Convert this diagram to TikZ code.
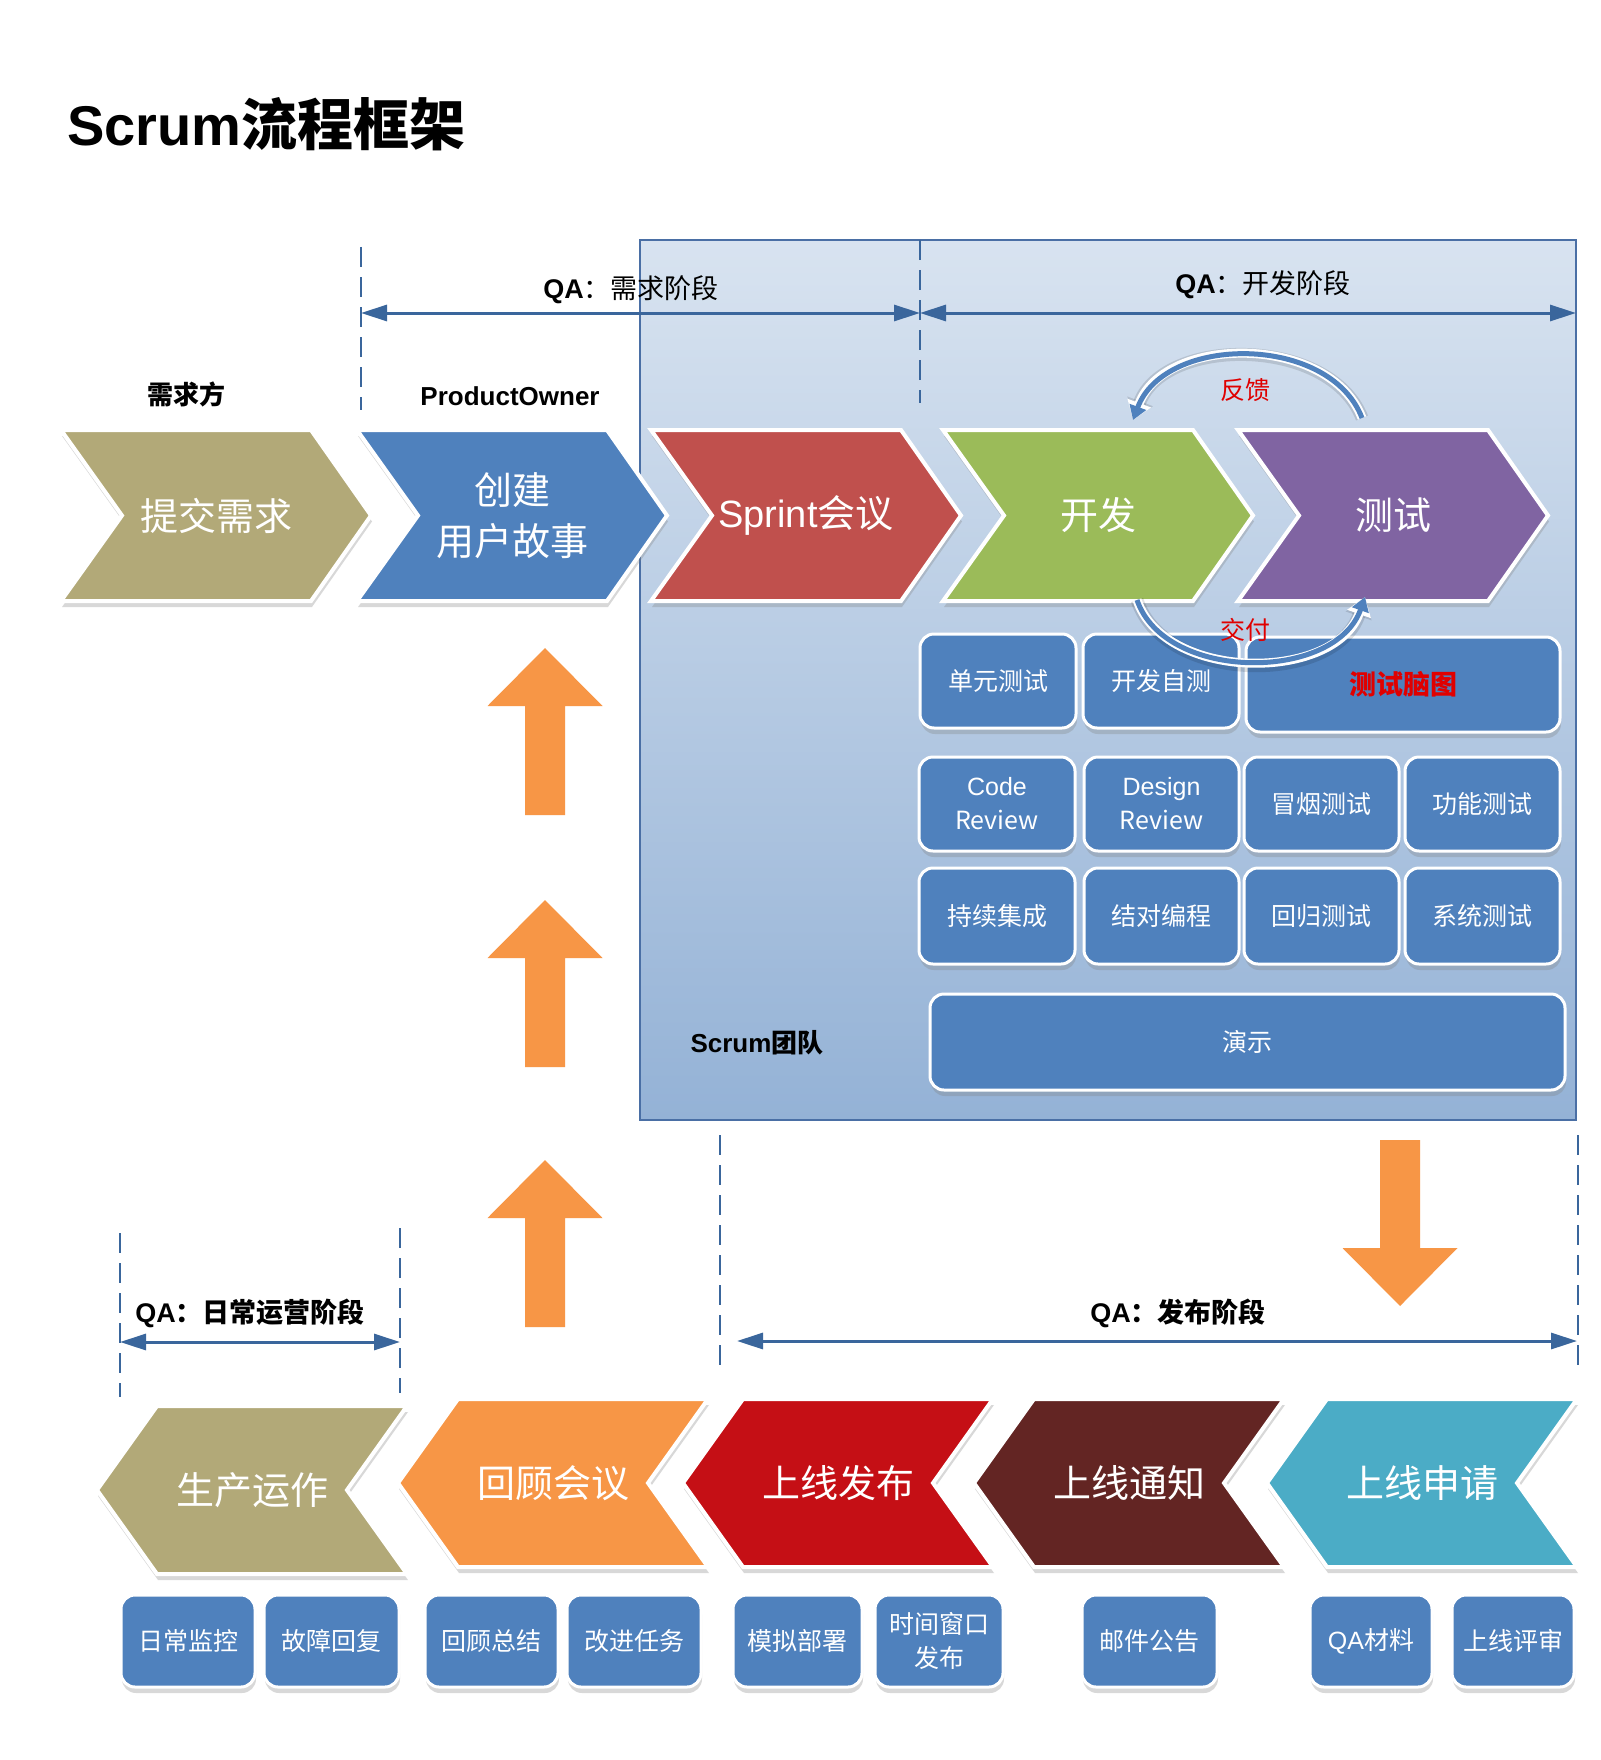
\documentclass[tikz,border=0pt]{standalone}
\usepackage{fontspec}
\setmainfont{Liberation Sans}
\newfontfamily\cjk{Noto Sans CJK SC}
\newfontfamily\lat{Liberation Sans}
\usetikzlibrary{shadows,arrows.meta}
\definecolor{cOlive}{HTML}{B2A978}
\definecolor{cBlue}{HTML}{4F81BD}
\definecolor{cRed}{HTML}{C0504D}
\definecolor{cGreen}{HTML}{9BBB59}
\definecolor{cPurple}{HTML}{8064A2}
\definecolor{cOrange}{HTML}{F79646}
\definecolor{cBright}{HTML}{C50F15}
\definecolor{cBrown}{HTML}{632523}
\definecolor{cTeal}{HTML}{4BACC6}
\definecolor{cLine}{HTML}{3A669C}
\definecolor{cTop}{HTML}{D8E3F0}
\definecolor{cBot}{HTML}{94B2D6}
\definecolor{cFrame}{HTML}{4A6FA5}
\definecolor{cLabel}{HTML}{E00000}
% right-pointing chevron: name, left x, colour, text
\newcommand\chevR[4]{%
  \path[chev, fill=#3] (#2,430) -- ++(250,0) -- ++(60,85.5) -- ++(-60,85.5) -- ++(-250,0) -- ++(61,-85.5) -- cycle;
  \node[chevtext] (#1) at (#2+155,515.5) {#4};}
% left-pointing chevron: name, tip x, top y, colour, text
\newcommand\chevL[5]{%
  \path[chev, fill=#4] (#2,#3+84) -- ++(60,-84) -- ++(250,0) -- ++(-60,84) -- ++(60,84) -- ++(-250,0) -- cycle;
  \node[chevtext] (#1) at (#2+155,#3+84) {#5};}
% orange up arrow: centre x, tip y
\newcommand\uparr[2]{%
  \fill[cOrange] (#1,#2) -- (#1+57.5,#2+58) -- (#1+20,#2+58) -- (#1+20,#2+167) -- (#1-20,#2+167) -- (#1-20,#2+58) -- (#1-57.5,#2+58) -- cycle;}
\begin{document}
\begin{tikzpicture}[x=0.5pt,y=-0.5pt,
  chev/.style={draw=white, line width=2pt, drop shadow={opacity=0.3, shadow xshift=0.5pt, shadow yshift=-3pt}},
  chevtext/.style={text=white, font=\cjk\fontsize{19}{25.5}\selectfont, align=center, inner sep=0pt},
  box/.style={rounded corners=7pt, fill=cBlue, draw=white, line width=1.5pt, text=white,
    font=\cjk\fontsize{12.5}{17}\selectfont, align=center, inner sep=0pt,
    drop shadow={opacity=0.3, shadow xshift=0.5pt, shadow yshift=-3pt}},
  dim/.style={cLine, line width=1.5pt, {Triangle[length=13pt,width=8pt]}-{Triangle[length=13pt,width=8pt]}},
  dashv/.style={cLine, line width=1pt, dash pattern=on 10pt off 5pt},
  qa/.style={font=\bfseries\fontsize{13.5}{16}\selectfont, inner sep=0pt},
  role/.style={font=\bfseries\fontsize{13}{16}\selectfont, inner sep=0pt},
  arcshadow/.style={black, opacity=0.12, line width=6.5pt, -{Triangle[length=10pt,width=13pt]}},
  arcouter/.style={white, line width=4.5pt, -{Triangle[length=9pt,width=12pt]}},
  arcinner/.style={cBlue, line width=2.5pt, -{Triangle[length=7pt,width=8.5pt]}},
  arclabel/.style={text=cLabel, font=\cjk\fontsize{12.5}{15}\selectfont, inner sep=0pt}]
\useasboundingbox[fill=white] (0,0) rectangle (1600,1760);

% title
\node[anchor=base west, inner sep=0pt, font=\bfseries\fontsize{28}{32}\selectfont] (title) at (67,146) {Scrum{\cjk 流程框架}};

% Scrum team frame
\path[top color=cTop, bottom color=cBot, draw=cFrame, line width=0.75pt] (640,240) rectangle (1576,1120);
\node[role, anchor=center] (team) at (757,1043) {Scrum{\cjk 团队}};

% phase markers (top)
\coordinate (p1t) at (361,247); \coordinate (p1b) at (361,410);
\coordinate (p2t) at (920,240); \coordinate (p2b) at (920,403);
\draw[dashv] (p1t) -- (p1b);
\draw[dashv] (p2t) -- (p2b);
\coordinate (a1l) at (361,313); \coordinate (a1r) at (920,313); \coordinate (a2r) at (1576,313);
\draw[dim] (a1l) -- (a1r);
\draw[dim] (a1r) -- (a2r);
\node[qa] (qa1) at (631,290) {QA{\cjk\mdseries ：需求阶段}};
\node[qa] (qa2) at (1263,285) {QA{\cjk\mdseries ：开发阶段}};
\node[role] (r1) at (186,394) {\cjk 需求方};
\node[role] (r2) at (510,396) {ProductOwner};

% top chevrons
\chevR{c1}{61}{cOlive}{提交需求}
\chevR{c2}{357}{cBlue}{创建\\用户故事}
\chevR{c3}{651}{cRed}{{\lat Sprint}会议}
\chevR{c4}{943}{cGreen}{开发}
\chevR{c5}{1238}{cPurple}{测试}

% practice boxes
\node[box, minimum width=78pt, minimum height=47pt] (b11) at (998,681) {单元测试};
\node[box, minimum width=78pt, minimum height=47pt] (b12) at (1161,681) {开发自测};
\node[box, minimum width=157pt, minimum height=47.5pt, text=cLabel, font=\cjk\bfseries\fontsize{13.5}{17}\selectfont] (b13) at (1403,684.5) {测试脑图};
\node[box, minimum width=78pt, minimum height=47pt] (b21) at (997,804) {\lat Code\\Review};
\node[box, minimum width=77.5pt, minimum height=47pt] (b22) at (1161.5,804) {\lat Design\\Review};
\node[box, minimum width=77.5pt, minimum height=47pt] (b23) at (1321.5,804) {冒烟测试};
\node[box, minimum width=77.5pt, minimum height=47pt] (b24) at (1482.5,804) {功能测试};
\node[box, minimum width=78pt, minimum height=48pt] (b31) at (997,916) {持续集成};
\node[box, minimum width=77.5pt, minimum height=48pt] (b32) at (1161.5,916) {结对编程};
\node[box, minimum width=77.5pt, minimum height=48pt] (b33) at (1321.5,916) {回归测试};
\node[box, minimum width=77.5pt, minimum height=48pt] (b34) at (1482.5,916) {系统测试};
\node[box, minimum width=317.5pt, minimum height=48pt] (b41) at (1247.5,1042) {演示};

% feedback / delivery arcs
\coordinate (fbS) at (1362,418); \coordinate (fbE) at (1133,420);
\coordinate (jfS) at (1137,600); \coordinate (jfE) at (1365,597);
\draw[arcshadow] (fbS) .. controls (1330,336) and (1165,336) .. (fbE);
\draw[arcouter] (fbS) .. controls (1330,334) and (1165,334) .. (fbE);
\draw[arcinner] (fbS) .. controls (1330,334) and (1165,334) .. (fbE);
\draw[arcshadow] (jfS) .. controls (1165,685) and (1335,685) .. (jfE);
\draw[arcouter] (jfS) .. controls (1165,682) and (1335,682) .. (jfE);
\draw[arcinner] (jfS) .. controls (1165,682) and (1335,682) .. (jfE);
\node[arclabel] (fk) at (1245,390) {反馈};
\node[arclabel] (jf) at (1245,630) {交付};

% orange arrows
\uparr{545}{648}
\uparr{545}{900}
\uparr{545}{1160}
\fill[cOrange] (1400,1306) -- (1457.5,1248) -- (1420,1248) -- (1420,1140) -- (1380,1140) -- (1380,1248) -- (1342.5,1248) -- cycle;

% phase markers (bottom)
\coordinate (p3t) at (120,1233); \coordinate (p3b) at (120,1397);
\coordinate (p4t) at (400,1228); \coordinate (p4b) at (400,1393);
\coordinate (p5t) at (720,1135); \coordinate (p5b) at (720,1374);
\coordinate (p6t) at (1578,1135); \coordinate (p6b) at (1578,1374);
\draw[dashv] (p3t) -- (p3b);
\draw[dashv] (p4t) -- (p4b);
\draw[dashv] (p5t) -- (p5b);
\draw[dashv] (p6t) -- (p6b);
\coordinate (a3l) at (120,1342); \coordinate (a3r) at (400,1342);
\coordinate (a4l) at (737,1341); \coordinate (a4r) at (1577,1341);
\draw[dim] (a3l) -- (a3r);
\draw[dim] (a4l) -- (a4r);
\node[qa] (qa3) at (250,1313) {QA{\cjk ：日常运营阶段}};
\node[qa] (qa4) at (1178,1313) {QA{\cjk ：发布阶段}};

% bottom chevrons
\chevL{c6}{97}{1406}{cOlive}{生产运作}
\chevL{c7}{398}{1399}{cOrange}{回顾会议}
\chevL{c8}{683}{1399}{cBright}{上线发布}
\chevL{c9}{974}{1399}{cBrown}{上线通知}
\chevL{c10}{1267}{1399}{cTeal}{上线申请}

% bottom boxes
\node[box, minimum width=67pt, minimum height=46pt] (d1) at (188,1641) {日常监控};
\node[box, minimum width=67.5pt, minimum height=46pt] (d2) at (331.5,1641) {故障回复};
\node[box, minimum width=66.5pt, minimum height=46pt] (d3) at (491.5,1641) {回顾总结};
\node[box, minimum width=67pt, minimum height=46pt] (d4) at (634,1641) {改进任务};
\node[box, minimum width=64.5pt, minimum height=46pt] (d5) at (797.5,1641) {模拟部署};
\node[box, minimum width=64pt, minimum height=46pt] (d6) at (939,1641) {时间窗口\\发布};
\node[box, minimum width=67.5pt, minimum height=46pt] (d7) at (1149.5,1641) {邮件公告};
\node[box, minimum width=61pt, minimum height=46pt] (d8) at (1371,1641) {{\lat QA}材料};
\node[box, minimum width=61pt, minimum height=46pt] (d9) at (1513,1641) {上线评审};
\end{tikzpicture}
\end{document}
